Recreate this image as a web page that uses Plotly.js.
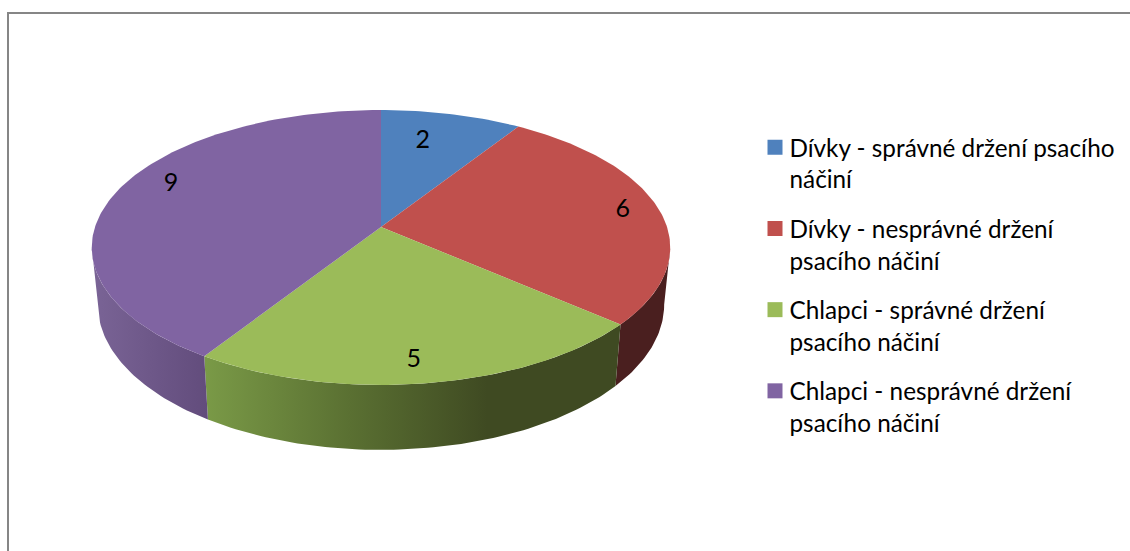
<!DOCTYPE html>
<html>
<head>
<meta charset="utf-8">
<script src="https://cdn.plot.ly/plotly-3.0.1.min.js"></script>
<style>html,body{margin:0;padding:0;background:#fff;overflow:hidden}#chart{width:1130px;height:551px}</style>
</head>
<body>
<div id="chart"></div>
<script>
// Data
const categories = [
  "Dívky - správné držení psacího<br>náčiní",
  "Dívky - nesprávné držení<br>psacího náčiní",
  "Chlapci - správné držení<br>psacího náčiní",
  "Chlapci - nesprávné držení<br>psacího náčiní"
];
const values = [2, 6, 5, 9];

// Style
const topColors = ["#4f81bd", "#c0504d", "#9bbb59", "#8064a2"];
const sideGradients = [
  [[0, "#2a4262"], [1, "#2a4262"]],
  [[0, "#4a1f1f"], [1, "#4a1f1f"]],
  [[0, "#7a9a47"], [0.35, "#5a7032"], [0.68, "#3f4a22"], [1, "#3f4a22"]],
  [[0, "#7a6496"], [1, "#624c7c"]]
];
const labelRadial = [0.72, 0.87, 0.87, 0.84];
const labelTurn = [-3.4, 0, 1.6, 7];

// Projection of the tilted disc, in pixel-like axis units
const cx = 381, K = 0.149;
const topDisc = {cy: 227, R: 286, B: 134.4};
const baseDisc = {cy: 283, R: 280, B: 142};
function project(deg, r, disc) {
  const t = deg * Math.PI / 180;
  const d = r * Math.cos(t);
  const s = 1 / (1 + K * d);
  return [cx + disc.R * r * Math.sin(t) * s, disc.cy - disc.B * d * s];
}
function arc(a, b, disc) {
  const n = Math.max(2, Math.ceil(Math.abs(b - a)));
  const out = [];
  for (let i = 0; i <= n; i++) out.push(project(a + (b - a) * i / n, 1, disc));
  return out;
}

const total = values.reduce((p, c) => p + c, 0);
let running = 0;
const starts = [], ends = [];
values.forEach(v => { starts.push(running); running += v / total * 360; ends.push(running); });

// Silhouette angles of the disc: the wall is visible between them
const wallFrom = Math.acos(-K) * 180 / Math.PI, wallTo = 360 - wallFrom;

const traces = [];
values.forEach((v, i) => {
  const a = Math.max(starts[i], wallFrom), b = Math.min(ends[i], wallTo);
  if (b <= a) return;
  const poly = arc(a, b, topDisc).concat(arc(a, b, baseDisc).reverse());
  poly.push(poly[0]);
  traces.push({
    type: "scatter", mode: "lines", x: poly.map(p => p[0]), y: poly.map(p => p[1]),
    line: {width: 0}, fill: "toself", hoverinfo: "skip", showlegend: false,
    fillgradient: {type: "horizontal", colorscale: sideGradients[i]}
  });
});
// Top faces
values.forEach((v, i) => {
  const poly = [project(0, 0, topDisc)].concat(arc(starts[i], ends[i], topDisc));
  poly.push(project(0, 0, topDisc));
  traces.push({
    type: "scatter", mode: "lines", x: poly.map(p => p[0]), y: poly.map(p => p[1]),
    line: {width: 0, color: topColors[i]}, fill: "toself", fillcolor: topColors[i],
    hoverinfo: "text", text: String(v), showlegend: false
  });
});
// Value labels
const lab = values.map((v, i) => project((starts[i] + ends[i]) / 2 + labelTurn[i], labelRadial[i], topDisc));
traces.push({
  type: "scatter", mode: "text", x: lab.map(p => p[0]), y: lab.map(p => p[1]),
  text: values.map(String), textposition: "middle center",
  textfont: {family: "Lato, 'Open Sans', sans-serif", size: 25, color: "#000"},
  hoverinfo: "skip", showlegend: false
});
// Legend entries
categories.forEach((c, i) => {
  traces.push({
    type: "scatter", mode: "markers", x: [null], y: [null], name: c,
    legendgroup: "g" + i,
    marker: {symbol: "square", size: 15, color: topColors[i]}
  });
});

const layout = {
  width: 1130, height: 551,
  margin: {l: 0, r: 0, t: 0, b: 0},
  paper_bgcolor: "#fff", plot_bgcolor: "#fff",
  xaxis: {range: [0, 1130], visible: false, fixedrange: true},
  yaxis: {range: [551, 0], visible: false, fixedrange: true},
  font: {family: "Lato, 'Open Sans', sans-serif", color: "#000"},
  legend: {
    x: 754.5 / 1130, xanchor: "left", y: 1 - 125 / 551, yanchor: "top",
    font: {size: 24.3, family: "Lato, 'Open Sans', sans-serif"},
    bgcolor: "rgba(0,0,0,0)", tracegroupgap: 15, itemwidth: 30, traceorder: "grouped",
    indentation: -5, valign: "top"
  },
  shapes: [
    {type: "line", xref: "x", yref: "y", x0: 8, x1: 8, y0: 12, y1: 551, line: {color: "#868686", width: 2}},
    {type: "line", xref: "x", yref: "y", x0: 7, x1: 1130, y0: 13, y1: 13, line: {color: "#868686", width: 2}}
  ],
  showlegend: true
};
Plotly.newPlot("chart", traces, layout, {displayModeBar: false, staticPlot: true}).then(() => {
  // The legend key sits a little closer to its text than the library's fixed gap allows
  document.querySelectorAll("#chart .legendsymbols").forEach(g => g.setAttribute("transform", "translate(5.5,0)"));
});
</script>
</body>
</html>
